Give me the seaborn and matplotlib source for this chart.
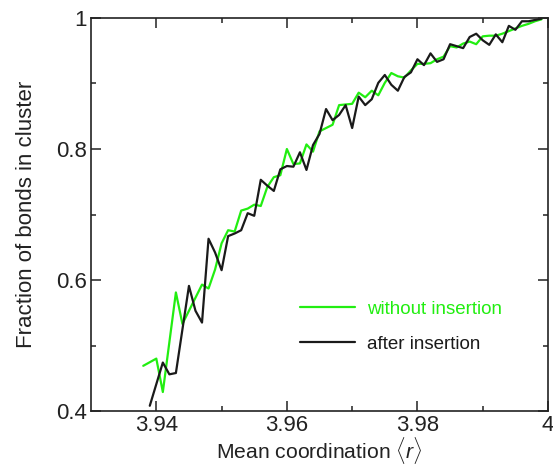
import matplotlib
matplotlib.use("Agg")
import matplotlib.pyplot as plt
from matplotlib.ticker import FixedLocator, FixedFormatter
import pandas as pd
import seaborn as sns

# Mean coordination and fraction of bonds in the rigid cluster
r_without = [3.938, 3.940, 3.941, 3.943, 3.944, 3.947, 3.948, 3.949, 3.950,
             3.951, 3.952, 3.953, 3.954, 3.955, 3.956, 3.957, 3.958, 3.959,
             3.960, 3.961, 3.962, 3.963, 3.964, 3.965, 3.966, 3.967, 3.968,
             3.969, 3.970, 3.971, 3.972, 3.973, 3.974, 3.975, 3.976, 3.977,
             3.978, 3.979, 3.980, 3.981, 3.982, 3.983, 3.984, 3.985, 3.986,
             3.987, 3.988, 3.989, 3.990, 3.991, 3.992, 3.993, 3.994, 3.995,
             3.996, 3.997, 3.998, 3.999]
f_without = [0.469, 0.480, 0.429, 0.581, 0.533, 0.593, 0.587, 0.616, 0.656,
             0.676, 0.674, 0.706, 0.709, 0.715, 0.713, 0.742, 0.757, 0.760,
             0.800, 0.777, 0.778, 0.807, 0.796, 0.827, 0.832, 0.837, 0.867,
             0.868, 0.869, 0.886, 0.879, 0.889, 0.882, 0.901, 0.916, 0.911,
             0.909, 0.920, 0.930, 0.930, 0.931, 0.937, 0.941, 0.957, 0.955,
             0.961, 0.964, 0.960, 0.972, 0.973, 0.973, 0.976, 0.980, 0.984,
             0.988, 0.991, 0.995, 0.998]

r_after = [3.939, 3.941, 3.942, 3.943, 3.945, 3.946, 3.947, 3.948, 3.949,
           3.950, 3.951, 3.952, 3.953, 3.954, 3.955, 3.956, 3.957, 3.958,
           3.959, 3.960, 3.961, 3.962, 3.963, 3.964, 3.965, 3.966, 3.967,
           3.968, 3.969, 3.970, 3.971, 3.972, 3.973, 3.974, 3.975, 3.976,
           3.977, 3.978, 3.979, 3.980, 3.981, 3.982, 3.983, 3.984, 3.985,
           3.986, 3.987, 3.988, 3.989, 3.990, 3.991, 3.992, 3.993, 3.994,
           3.995, 3.996, 3.997, 3.999]
f_after = [0.408, 0.474, 0.456, 0.458, 0.591, 0.553, 0.535, 0.663, 0.642,
           0.615, 0.667, 0.671, 0.676, 0.702, 0.698, 0.753, 0.744, 0.736,
           0.769, 0.774, 0.773, 0.795, 0.768, 0.806, 0.823, 0.861, 0.844,
           0.852, 0.867, 0.832, 0.880, 0.867, 0.876, 0.901, 0.913, 0.898,
           0.889, 0.910, 0.917, 0.937, 0.928, 0.946, 0.933, 0.937, 0.960,
           0.957, 0.954, 0.971, 0.976, 0.966, 0.959, 0.975, 0.963, 0.988,
           0.982, 0.995, 0.995, 0.999]

series_labels = ["without insertion", "after insertion"]
series_colors = ["#22ee11", "#1a1a1a"]

x_ticks = [3.94, 3.96, 3.98, 4.0]
x_ticklabels = ["3.94", "3.96", "3.98", "4"]
x_minor = [3.95, 3.97, 3.99]
y_ticks = [0.4, 0.6, 0.8, 1.0]
y_ticklabels = ["0.4", "0.6", "0.8", "1"]
y_minor = [0.5, 0.7, 0.9]

sns.set_theme(style="ticks")
plt.rcParams["font.family"] = ["Liberation Sans", "DejaVu Sans"]
plt.rcParams["mathtext.fontset"] = "custom"
plt.rcParams["mathtext.rm"] = "Liberation Sans"
plt.rcParams["mathtext.it"] = "Liberation Sans:italic"

df_without = pd.DataFrame({"r": r_without, "f": f_without})
df_after = pd.DataFrame({"r": r_after, "f": f_after})

fig = plt.figure(figsize=(5.53, 4.65), dpi=100)
ax = fig.add_axes([0.1646, 0.1161, 0.8264, 0.8452])

sns.lineplot(data=df_without, x="r", y="f", ax=ax, color=series_colors[0],
             lw=1.6, sort=False, estimator=None, label=series_labels[0])
sns.lineplot(data=df_after, x="r", y="f", ax=ax, color=series_colors[1],
             lw=1.6, sort=False, estimator=None, label=series_labels[1])

ax.set_xlim(3.93, 4.0)
ax.set_ylim(0.4, 1.0)
ax.xaxis.set_major_locator(FixedLocator(x_ticks))
ax.xaxis.set_major_formatter(FixedFormatter(x_ticklabels))
ax.xaxis.set_minor_locator(FixedLocator(x_minor))
ax.yaxis.set_major_locator(FixedLocator(y_ticks))
ax.yaxis.set_major_formatter(FixedFormatter(y_ticklabels))
ax.yaxis.set_minor_locator(FixedLocator(y_minor))

ax.tick_params(which="both", direction="in", top=True, right=True,
               color="#222222", width=1.1, labelsize=16, labelcolor="#222222")
ax.tick_params(which="major", length=7, pad=3)
ax.tick_params(which="minor", length=3.6)
for s in ax.spines.values():
    s.set_linewidth(1.2)
    s.set_color("#222222")
    s.set_visible(True)

ax.set_xlabel(r"Mean coordination $\langle r\rangle$", fontsize=15.2,
              color="#222222", labelpad=-1.2)
ax.set_ylabel("Fraction of bonds in cluster", fontsize=16,
              color="#222222", labelpad=14)

leg = ax.legend(loc="upper left", bbox_to_anchor=(0.457, 0.281), frameon=False,
                fontsize=13.5, handlelength=2.95, handletextpad=0.62,
                labelspacing=0.95, borderpad=0, borderaxespad=0)
for txt, c in zip(leg.get_texts(), series_colors):
    txt.set_color(c)

fig.savefig("out.png", dpi=100)
